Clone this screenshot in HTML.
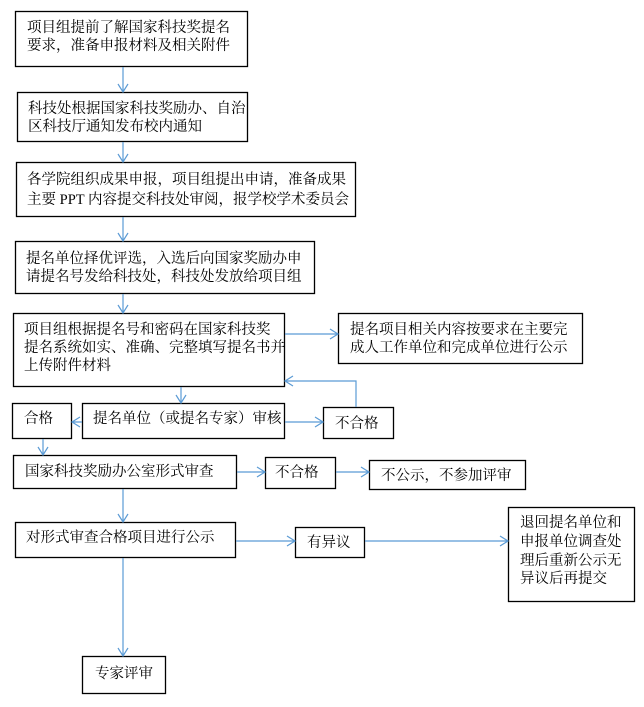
<!DOCTYPE html>
<html><head><meta charset="utf-8"><style>
body{margin:0;background:#fff}
svg text{font-family:"Liberation Serif","Noto Serif CJK SC",serif;font-size:14.5px;fill:#000}
</style></head><body>
<svg width="644" height="702" viewBox="0 0 644 702" xmlns="http://www.w3.org/2000/svg">
<g fill="none" stroke="#000" stroke-width="1.3">
<rect x="15.5" y="11.5" width="232" height="55"/>
<rect x="17.5" y="92.5" width="230" height="49"/>
<rect x="16.5" y="162.5" width="339" height="54"/>
<rect x="15.5" y="241.5" width="299" height="52"/>
<rect x="13.5" y="313.5" width="271" height="73"/>
<rect x="338.5" y="313.5" width="244" height="50"/>
<rect x="12.5" y="403.5" width="59" height="35"/>
<rect x="82.5" y="403.5" width="202" height="35"/>
<rect x="323.5" y="407.5" width="70" height="31"/>
<rect x="13.5" y="455.5" width="223" height="33"/>
<rect x="265.5" y="457.5" width="70" height="31"/>
<rect x="369.5" y="460.5" width="156" height="29"/>
<rect x="15.5" y="522.5" width="220" height="35"/>
<rect x="295.5" y="527.5" width="69" height="30"/>
<rect x="508.5" y="507.5" width="126" height="94"/>
<rect x="82.5" y="656.5" width="83" height="37"/>
</g>
<g fill="none" stroke="#5b9bd5" stroke-width="1.2">
<path d="M123 67V92M118 84l5 8 5-8"/>
<path d="M123 142V162M118 154l5 8 5-8"/>
<path d="M123 217V241M118 233l5 8 5-8"/>
<path d="M123 294V313M118 305l5 8 5-8"/>
<path d="M181 387V403M176 395l5 8 5-8"/>
<path d="M285 334H338M330 329l8 5-8 5"/>
<path d="M356 407V381H285M293 376l-8 5 8 5"/>
<path d="M82 422H72M80 417l-8 5 8 5"/>
<path d="M285 422H323M315 417l8 5-8 5"/>
<path d="M43 439V455M38 447l5 8 5-8"/>
<path d="M237 472H265M257 467l8 5-8 5"/>
<path d="M336 472H369M361 467l8 5-8 5"/>
<path d="M123 489V522M118 514l5 8 5-8"/>
<path d="M236 541H295M287 536l8 5-8 5"/>
<path d="M365 541H508M500 536l8 5-8 5"/>
<path d="M123 558V656M118 648l5 8 5-8"/>
</g>
<text x="27" y="32">项目组提前了解国家科技奖提名</text>
<text x="27" y="50">要求，准备申报材料及相关附件</text>
<text x="28" y="113">科技处根据国家科技奖励办、自治</text>
<text x="28" y="131">区科技厅通知发布校内通知</text>
<text x="27" y="184">各学院组织成果申报，项目组提出申请，准备成果</text>
<text x="27" y="204">主要 PPT 内容提交科技处审阅，报学校学术委员会</text>
<text x="26" y="263">提名单位择优评选，入选后向国家奖励办申</text>
<text x="26" y="281">请提名号发给科技处，科技处发放给项目组</text>
<text x="24" y="334">项目组根据提名号和密码在国家科技奖</text>
<text x="24" y="352">提名系统如实、准确、完整填写提名书并</text>
<text x="24" y="370">上传附件材料</text>
<text x="350" y="334">提名项目相关内容按要求在主要完</text>
<text x="350" y="352">成人工作单位和完成单位进行公示</text>
<text x="24" y="423">合格</text>
<text x="93" y="423">提名单位（或提名专家）审核</text>
<text x="335" y="428">不合格</text>
<text x="25" y="476">国家科技奖励办公室形式审查</text>
<text x="275" y="477">不合格</text>
<text x="381" y="480">不公示，不参加评审</text>
<text x="26" y="542">对形式审查合格项目进行公示</text>
<text x="307" y="547">有异议</text>
<text x="520" y="527">退回提名单位和</text>
<text x="520" y="546">申报单位调查处</text>
<text x="520" y="565">理后重新公示无</text>
<text x="520" y="583">异议后再提交</text>
<text x="95" y="678">专家评审</text>
</svg>
</body></html>
